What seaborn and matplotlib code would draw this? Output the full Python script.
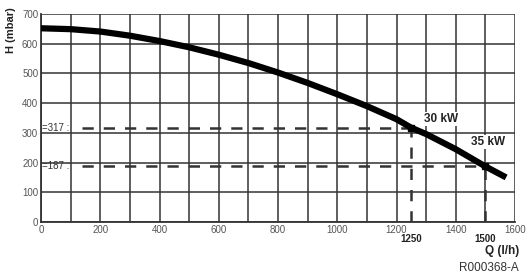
import matplotlib
matplotlib.use("Agg")
import matplotlib.pyplot as plt
import seaborn as sns
import pandas as pd

sns.set_theme(style="white")
plt.rcParams['font.family'] = ['Liberation Sans', 'DejaVu Sans']

# Pump curve (flow Q in l/h, head H in mbar)
flow = [0, 100, 200, 300, 400, 500, 600, 700, 800, 900, 1000, 1100, 1200, 1250, 1300, 1400, 1500, 1570]
head = [652, 649, 641, 627, 609, 588, 563, 535, 503, 468, 430, 390, 346, 317, 296, 245, 187, 150]

# Operating points
op_flow = [1250, 1500]
op_head = [317, 187]
op_labels = ["30 kW", "35 kW"]
op_label_pos = [(1293, 347), (1451, 269)]

x_ticks = [0, 200, 400, 600, 800, 1000, 1200, 1400, 1600]
y_ticks = [0, 100, 200, 300, 400, 500, 600, 700]

df = pd.DataFrame({"Q": flow, "H": head})

fig = plt.figure(figsize=(5.26, 2.79), dpi=100)
ax = fig.add_axes([41/526, 1 - 222/279, (515 - 41)/526, (222 - 14)/279])

ax.set_xlim(0, 1600)
ax.set_ylim(0, 700)
for xv in range(0, 1601, 100):
    ax.axvline(xv, color="#333333", lw=1.1, zorder=1)
for yv in y_ticks:
    ax.axhline(yv, color="#333333", lw=1.1, zorder=1)

sns.lineplot(data=df, x="Q", y="H", ax=ax, color="black", lw=4.5, zorder=3,
             solid_capstyle="butt")

for q, h, lab, (lx, ly) in zip(op_flow, op_head, op_labels, op_label_pos):
    ax.plot([140, q], [h, h], color="#333333", lw=1.8, ls=(0, (4.5, 4)), zorder=2)
    ax.plot([q, q], [0, h], color="#333333", lw=1.8, ls=(0, (4.5, 4)), zorder=2)
    ax.plot([q], [h], "s", color="black", ms=4, zorder=4)
    ax.text(lx, ly, lab, fontsize=8.5, fontweight="bold", ha="left",
            va="center", color="#222222", zorder=5,
            bbox=dict(boxstyle="square,pad=0.1", fc="white", ec="none"))
    ax.text(q, -42, str(q), fontsize=7, fontweight="bold", ha="center",
            va="top", color="#222222")
    ax.text(2, h, "=" + str(h) + " :", fontsize=7, ha="left", va="center",
            color="#333333", zorder=5)

ax.set_xticks(x_ticks)
ax.set_yticks(y_ticks)
ax.set_xticklabels([str(v) for v in x_ticks], fontsize=7, color="#555555")
ax.set_yticklabels([str(v) for v in y_ticks], fontsize=7, color="#555555")
ax.tick_params(axis="both", length=0, pad=2)
ax.set_xlabel("")
ax.set_ylabel("")
for s in ["top", "right"]:
    ax.spines[s].set_visible(False)
for s in ["left", "bottom"]:
    ax.spines[s].set_color("#333333")
    ax.spines[s].set_linewidth(1.3)

fig.text(6/526, 1 - 30/279, "H (mbar)", rotation=90, fontsize=8, fontweight="bold",
         ha="left", va="center", color="#222222")
fig.text(519/526, 1 - 251/279, "Q (l/h)", fontsize=8.5, fontweight="bold",
         ha="right", va="center", color="#222222")
fig.text(519/526, 1 - 268/279, "R000368-A", fontsize=8.5,
         ha="right", va="center", color="#333333")

fig.savefig("out.png", dpi=100)
